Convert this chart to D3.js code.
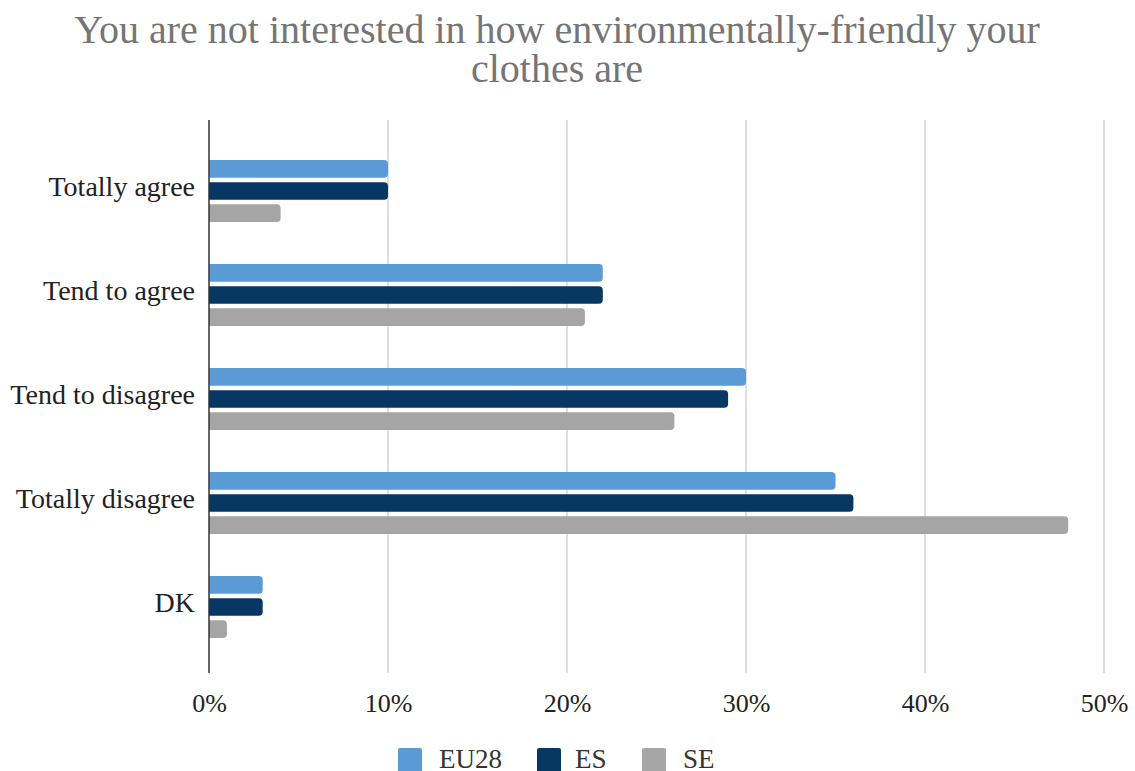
<!DOCTYPE html>
<html>
<head>
<meta charset="utf-8">
<script src="https://cdn.jsdelivr.net/npm/d3@7"></script>
<style>
  html, body { margin: 0; padding: 0; background: #fff; overflow: hidden; }
</style>
</head>
<body>
<svg id="chart" width="1135" height="771" font-family="Liberation Serif"></svg>
<script>
const categories = ["Totally agree", "Tend to agree", "Tend to disagree", "Totally disagree", "DK"];
const seriesNames = ["EU28", "ES", "SE"];
const eu28 = [10, 22, 30, 35, 3];
const es = [10, 22, 29, 36, 3];
const se = [4, 21, 26, 48, 1];
const tickValues = [0, 10, 20, 30, 40, 50];
const colors = ["#5b9bd5", "#073763", "#a5a5a5"];

const FONT = "Liberation Serif";
const seriesValues = [eu28, es, se];
const rows = categories.map((c, i) => ({
  category: c,
  values: seriesNames.map((s, j) => ({ series: s, value: seriesValues[j][i] }))
}));

const svg = d3.select("#chart");
const plot = { left: 209, right: 1104, top: 120, bottom: 673 };

const x = d3.scaleLinear().domain([0, 50]).range([plot.left, plot.right]);
const y = d3.scaleBand().domain(categories).range([139, 659]);
const inner = d3.scaleBand().domain(seriesNames).range([-31, 31]).paddingInner(0.2);
const color = d3.scaleOrdinal().domain(seriesNames).range(colors);

// Title, two lines
const title = svg.append("text")
  .attr("text-anchor", "middle")
  .attr("font-family", FONT)
  .attr("fill", "#757575").attr("font-size", 40);
title.append("tspan").attr("x", 557).attr("y", 43).text("You are not interested in how environmentally-friendly your");
title.append("tspan").attr("x", 557).attr("y", 82).text("clothes are");

// Vertical gridlines
svg.append("g").selectAll("line")
  .data(tickValues.filter(d => d > 0))
  .join("line")
  .attr("x1", d => x(d)).attr("x2", d => x(d))
  .attr("y1", plot.top).attr("y2", plot.bottom)
  .attr("stroke", "#cccccc").attr("stroke-width", 1.3);

// X tick labels
const xAxis = d3.axisBottom(x).tickValues(tickValues).tickFormat(d => d + "%").tickSize(0).tickPadding(0);
const gx = svg.append("g").attr("transform", `translate(0, ${plot.bottom + 39})`).call(xAxis)
  .attr("font-family", FONT).attr("font-size", 26);
gx.select(".domain").remove();
gx.selectAll("text").attr("fill", "#222").attr("dy", 0).attr("y", 0);

// Bars, rounded on the value end only
function barPath(x0, x1, yTop, h, r) {
  const w = x1 - x0;
  r = Math.min(r, w / 2, h / 2);
  return `M${x0},${yTop}H${x1 - r}Q${x1},${yTop} ${x1},${yTop + r}V${yTop + h - r}Q${x1},${yTop + h} ${x1 - r},${yTop + h}H${x0}Z`;
}

const groups = svg.append("g").selectAll("g")
  .data(rows).join("g")
  .attr("transform", d => `translate(0, ${y(d.category) + y.bandwidth() / 2})`);

groups.selectAll("path")
  .data(d => d.values).join("path")
  .attr("d", d => barPath(x(0), x(d.value), inner(d.series), inner.bandwidth(), 4))
  .attr("fill", d => color(d.series));

// Y axis line and category labels
svg.append("line")
  .attr("x1", plot.left).attr("x2", plot.left)
  .attr("y1", plot.top).attr("y2", plot.bottom)
  .attr("stroke", "#333").attr("stroke-width", 1.5);

const yAxis = d3.axisLeft(y).tickSize(0).tickPadding(14);
const gy = svg.append("g").attr("transform", `translate(${plot.left}, 0)`).call(yAxis)
  .attr("font-family", FONT).attr("font-size", 28);
gy.select(".domain").remove();
gy.selectAll("text").attr("fill", "#222").attr("dy", "0.18em");

// Legend along the bottom edge
const legendX = [398, 537, 642];
const legend = svg.append("g").selectAll("g")
  .data(seriesNames).join("g")
  .attr("transform", (d, i) => `translate(${legendX[i]}, 748)`);
legend.append("rect").attr("width", 24).attr("height", 26).attr("rx", 2)
  .attr("fill", d => color(d));
legend.append("text").attr("x", d => d === "ES" ? 38 : 41).attr("y", 20).attr("font-size", 27)
  .attr("font-family", FONT)
  .attr("fill", "#333").text(d => d);
</script>
</body>
</html>
